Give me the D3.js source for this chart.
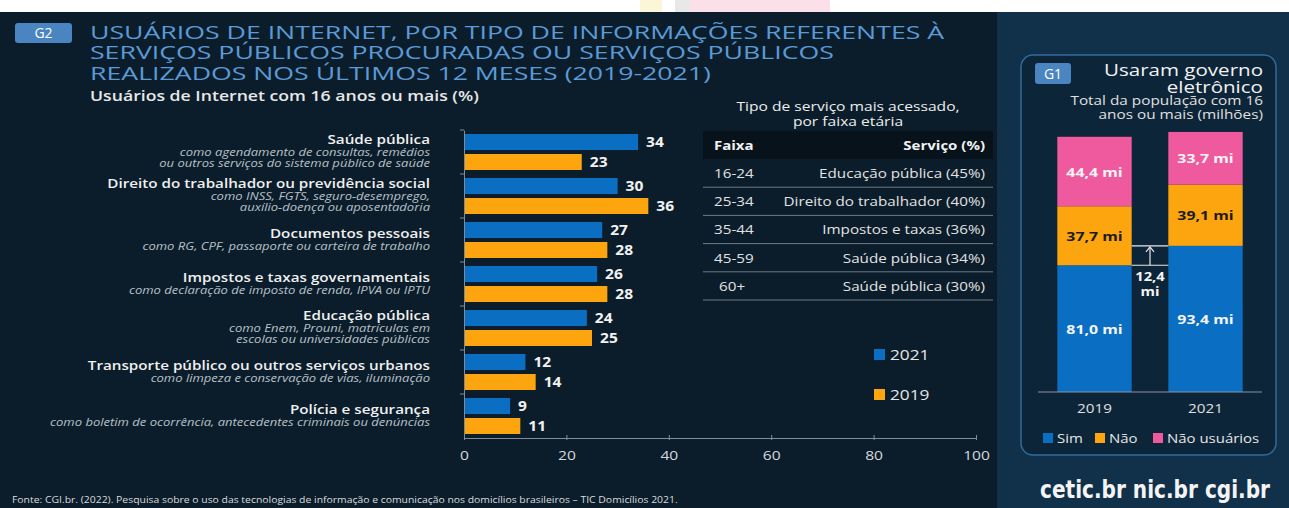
<!DOCTYPE html>
<html><head><meta charset="utf-8">
<script src="https://cdn.jsdelivr.net/npm/d3@7"></script>
<style>
body{margin:0;background:#fff;}
svg{display:block;font-family:"Open Sans","Noto Sans",sans-serif;}
</style>
</head><body>
<svg id="c" width="1289" height="508"></svg>
<script>
// ---------- DATA ----------
const categories = [
  "Saúde pública",
  "Direito do trabalhador ou previdência social",
  "Documentos pessoais",
  "Impostos e taxas governamentais",
  "Educação pública",
  "Transporte público ou outros serviços urbanos",
  "Polícia e segurança"
];
const categoryNotes = [
  ["como agendamento de consultas, remédios", "ou outros serviços do sistema público de saúde"],
  ["como INSS, FGTS, seguro-desemprego,", "auxílio-doença ou aposentadoria"],
  ["como RG, CPF, passaporte ou carteira de trabalho"],
  ["como declaração de imposto de renda, IPVA ou IPTU"],
  ["como Enem, Prouni, matrículas em", "escolas ou universidades públicas"],
  ["como limpeza e conservação de vias, iluminação"],
  ["como boletim de ocorrência, antecedentes criminais ou denúncias"]
];
const seriesNames = ["2021", "2019"];
const values2021 = [34, 30, 27, 26, 24, 12, 9];
const values2019 = [23, 36, 28, 28, 25, 14, 11];
const xTicks = [0, 20, 40, 60, 80, 100];

const tableTitle = ["Tipo de serviço mais acessado,", "por faixa etária"];
const tableHeader = ["Faixa", "Serviço (%)"];
const ageGroups = ["16-24", "25-34", "35-44", "45-59", "60+"];
const topServices = ["Educação pública (45%)", "Direito do trabalhador (40%)", "Impostos e taxas (36%)", "Saúde pública (34%)", "Saúde pública (30%)"];

const g1Years = ["2019", "2021"];
const g1Sim = [81.0, 93.4];
const g1Nao = [37.7, 39.1];
const g1NaoUsuarios = [44.4, 33.7];
const g1Series = ["Sim", "Não", "Não usuários"];

// ---------- STYLE ----------
const BLUE = "#0a6fc2", ORANGE = "#fca50f", PINK = "#ef5a9e";
const svg = d3.select("#c");
const ptBR = d3.formatLocale({decimal: ",", thousands: ".", grouping: [3], currency: ["R$", ""]});
const f1 = ptBR.format(".1f");

// horizontal widening of text (reference glyphs are wider than the available fonts)
function stretch(sel, k) {
  sel.each(function () {
    const L = this.getComputedTextLength();
    d3.select(this).attr("textLength", L * k).attr("lengthAdjust", "spacingAndGlyphs");
  });
}

// backgrounds
svg.append("rect").attr("x", 0).attr("y", 0).attr("width", 1289).attr("height", 508).attr("fill", "#ffffff");
svg.append("rect").attr("x", 640).attr("y", 0).attr("width", 22).attr("height", 12).attr("fill", "#fbf6d8");
svg.append("rect").attr("x", 675).attr("y", 0).attr("width", 40).attr("height", 12).attr("fill", "#e8e8e8");
svg.append("rect").attr("x", 690).attr("y", 0).attr("width", 140).attr("height", 12).attr("fill", "#fbe0ea");
svg.append("rect").attr("x", 0).attr("y", 12).attr("width", 1289).attr("height", 496).attr("fill", "#0b1d2b");
svg.append("rect").attr("x", 997).attr("y", 12).attr("width", 292).attr("height", 496).attr("fill", "#11304a");

// ---------- TITLE ----------
const badge = svg.append("g");
badge.append("rect").attr("x", 15).attr("y", 23).attr("width", 57).attr("height", 20).attr("rx", 3).attr("fill", "#4a85c2");
badge.append("text").attr("x", 43.5).attr("y", 38).attr("text-anchor", "middle").attr("fill", "#fff").attr("font-size", 14).text("G2");

const titleLines = [
  "USUÁRIOS DE INTERNET, POR TIPO DE INFORMAÇÕES REFERENTES À",
  "SERVIÇOS PÚBLICOS PROCURADAS OU SERVIÇOS PÚBLICOS",
  "REALIZADOS NOS ÚLTIMOS 12 MESES (2019-2021)"
];
const titleSel = svg.append("g").selectAll("text").data(titleLines).join("text")
  .attr("x", 90).attr("y", (d, i) => 38.5 + i * 20.5)
  .attr("fill", "#5b9ad6").attr("font-size", 18.8).attr("font-weight", 500)
  .text(d => d);
stretch(titleSel, 1.42);

const subSel = svg.append("text").attr("x", 90).attr("y", 101).attr("fill", "#e8e8e8")
  .attr("font-size", 14).attr("font-weight", 600).text("Usuários de Internet com 16 anos ou mais (%)");
stretch(subSel, 1.26);

// ---------- BAR CHART ----------
const x = d3.scaleLinear().domain([0, 100]).range([464, 976]);
const y = d3.scaleBand().domain(categories).range([130, 438]);
const ySub = d3.scaleBand().domain(seriesNames).range([4, 40]).paddingInner(0.2);

const rows = categories.map((c, i) => ({cat: c, notes: categoryNotes[i], v: {"2021": values2021[i], "2019": values2019[i]}}));
const colorOf = {"2021": BLUE, "2019": ORANGE};

const chart = svg.append("g");
const rowG = chart.selectAll("g.row").data(rows).join("g").attr("class", "row")
  .attr("transform", d => `translate(0,${y(d.cat)})`);

rowG.selectAll("rect").data(d => seriesNames.map(s => ({s, v: d.v[s]}))).join("rect")
  .attr("x", x(0)).attr("y", d => ySub(d.s))
  .attr("width", d => x(d.v) - x(0)).attr("height", ySub.bandwidth())
  .attr("fill", d => colorOf[d.s]);

const valSel = rowG.selectAll("text.val").data(d => seriesNames.map(s => ({s, v: d.v[s]}))).join("text")
  .attr("class", "val")
  .attr("x", d => x(d.v) + 8).attr("y", d => ySub(d.s) + ySub.bandwidth() / 2 + 5)
  .attr("fill", "#f2f2f2").attr("font-size", 13.5).attr("font-weight", 700)
  .text(d => d.v);
stretch(valSel, 1.15);

// category labels
rowG.each(function (d) {
  const g = d3.select(this);
  const n = d.notes.length;
  const lineH = 11;
  const blockH = 14 + n * lineH;
  const top = y.bandwidth() / 2 - 2 - blockH / 2;
  g.append("text").attr("class", "catLabel").attr("x", 430).attr("y", top + 12).attr("text-anchor", "end")
    .attr("fill", "#f0f0f0").attr("font-size", 13).attr("font-weight", 600).text(d.cat);
  d.notes.forEach((t, j) => {
    g.append("text").attr("class", "catNote").attr("x", 430).attr("y", top + 14 + lineH * (j + 1) - 1).attr("text-anchor", "end")
      .attr("fill", "#b8c0c8").attr("font-size", 10.5).attr("font-style", "italic").text(t);
  });
});
stretch(chart.selectAll("text.catLabel"), 1.17);
stretch(chart.selectAll("text.catNote"), 1.24);

// left axis
const axisColor = "#7f8c99";
const yAxis = chart.append("g").attr("transform", `translate(${x(0)},0)`)
  .call(d3.axisLeft(y).tickValues([]).tickSizeOuter(0));
yAxis.select(".domain").attr("stroke", axisColor);
chart.append("g").selectAll("line").data(categories).join("line")
  .attr("x1", x(0) - 4).attr("x2", x(0)).attr("y1", d => y(d)).attr("y2", d => y(d))
  .attr("stroke", axisColor);

// bottom axis
const xAxis = chart.append("g").attr("transform", "translate(0,438)")
  .call(d3.axisBottom(x).tickValues(xTicks).tickSize(3).tickSizeOuter(0).tickPadding(10));
xAxis.select(".domain").attr("stroke", axisColor);
xAxis.selectAll(".tick line").attr("stroke", axisColor).attr("y1", -3).attr("y2", 2);
xAxis.selectAll(".tick text").attr("fill", "#d5d9de").attr("font-size", 13).attr("font-family", "Open Sans");
stretch(xAxis.selectAll(".tick text"), 1.2);

// legend
const legend = svg.append("g");
legend.selectAll("g").data(seriesNames).join("g")
  .attr("transform", (d, i) => `translate(874,${349 + i * 40})`)
  .each(function (d) {
    const g = d3.select(this);
    g.append("rect").attr("width", 11).attr("height", 11).attr("fill", colorOf[d]);
    g.append("text").attr("x", 16).attr("y", 11).attr("fill", "#e6e6e6").attr("font-size", 15).text(d);
  });
stretch(legend.selectAll("text"), 1.15);

// ---------- TABLE ----------
const tbl = svg.append("g");
const ttSel = tbl.selectAll("text.tt").data(tableTitle).join("text").attr("class", "tt")
  .attr("x", 848).attr("y", (d, i) => 111 + i * 14.5).attr("text-anchor", "middle")
  .attr("fill", "#eeeeee").attr("font-size", 12.8).attr("font-weight", 500).text(d => d);
stretch(ttSel, 1.22);
tbl.append("rect").attr("x", 703).attr("y", 131).attr("width", 290).attr("height", 28).attr("fill", "#07121b");
const th1 = tbl.append("text").attr("x", 714).attr("y", 150).attr("fill", "#f2f2f2").attr("font-size", 12.5).attr("font-weight", 700).text(tableHeader[0]);
const th2 = tbl.append("text").attr("x", 985).attr("y", 150).attr("text-anchor", "end").attr("fill", "#f2f2f2").attr("font-size", 12.5).attr("font-weight", 700).text(tableHeader[1]);
stretch(th1, 1.2); stretch(th2, 1.2);
const rowY = d3.scaleBand().domain(ageGroups).range([159, 300]);
const trs = tbl.selectAll("g.tr").data(ageGroups).join("g").attr("class", "tr")
  .attr("transform", d => `translate(0,${rowY(d)})`);
trs.append("text").attr("class", "td").attr("x", (d, i) => i === 4 ? 719 : 714).attr("y", rowY.bandwidth() / 2 + 5)
  .attr("fill", "#e2e2e2").attr("font-size", 13).text(d => d);
trs.append("text").attr("class", "td").attr("x", 985).attr("y", rowY.bandwidth() / 2 + 5).attr("text-anchor", "end")
  .attr("fill", "#e2e2e2").attr("font-size", 13).text((d, i) => topServices[i]);
trs.append("line").attr("x1", 703).attr("x2", 993).attr("y1", rowY.bandwidth()).attr("y2", rowY.bandwidth())
  .attr("stroke", "#6f7b86").attr("stroke-width", 1);
stretch(tbl.selectAll("text.td"), 1.17);

// ---------- G1 PANEL ----------
const g1 = svg.append("g");
g1.append("rect").attr("x", 1021).attr("y", 55).attr("width", 255).attr("height", 400).attr("rx", 12)
  .attr("fill", "#0d2538").attr("stroke", "#2f6c9c").attr("stroke-width", 1.5);
g1.append("rect").attr("x", 1035).attr("y", 63).attr("width", 36).attr("height", 21).attr("rx", 3).attr("fill", "#4a85c2");
g1.append("text").attr("x", 1053).attr("y", 79).attr("text-anchor", "middle").attr("fill", "#fff").attr("font-size", 14).text("G1");
const t1 = g1.selectAll("text.t1").data(["Usaram governo", "eletrônico"]).join("text").attr("class", "t1")
  .attr("x", 1263).attr("y", (d, i) => 76 + i * 16.5).attr("text-anchor", "end")
  .attr("fill", "#f2f2f2").attr("font-size", 15.8).attr("font-weight", 500).text(d => d);
stretch(t1, 1.3);
const t2 = g1.selectAll("text.t2").data(["Total da população com 16", "anos ou mais (milhões)"]).join("text").attr("class", "t2")
  .attr("x", 1263).attr("y", (d, i) => 105 + i * 13.5).attr("text-anchor", "end")
  .attr("fill", "#e0e0e0").attr("font-size", 11.8).text(d => d);
stretch(t2, 1.3);

const gx = d3.scaleBand().domain(g1Years).range([1038, 1262]).paddingInner(0.33).paddingOuter(0.174);
const gy = d3.scaleLinear().domain([0, 170]).range([392, 126]);
const stackData = g1Years.map((yr, i) => ({year: yr, "Sim": g1Sim[i], "Não": g1Nao[i], "Não usuários": g1NaoUsuarios[i]}));
const stack = d3.stack().keys(g1Series)(stackData);
const g1Color = {"Sim": BLUE, "Não": ORANGE, "Não usuários": PINK};
const g1Text = {"Sim": "#f4f4f4", "Não": "#1b1b1b", "Não usuários": "#f4f4f4"};

const layers = g1.selectAll("g.layer").data(stack).join("g").attr("class", "layer");
layers.selectAll("rect").data(d => d.map(p => ({key: d.key, p}))).join("rect")
  .attr("x", d => gx(d.p.data.year)).attr("width", gx.bandwidth())
  .attr("y", d => gy(d.p[1])).attr("height", d => gy(d.p[0]) - gy(d.p[1]))
  .attr("fill", d => g1Color[d.key]);
const segLab = layers.selectAll("text").data(d => d.map(p => ({key: d.key, p}))).join("text")
  .attr("x", d => gx(d.p.data.year) + gx.bandwidth() / 2)
  .attr("y", d => (gy(d.p[0]) + gy(d.p[1])) / 2 + 5)
  .attr("text-anchor", "middle").attr("fill", d => g1Text[d.key])
  .attr("font-size", 13).attr("font-weight", 700)
  .text(d => f1(d.p.data[d.key]) + " mi");
stretch(segLab, 1.22);

// baseline
g1.append("line").attr("x1", 1038).attr("x2", 1262).attr("y1", gy(0)).attr("y2", gy(0)).attr("stroke", "#8a96a2");

// difference annotation
const xL = gx(g1Years[0]) + gx.bandwidth(), xR = gx(g1Years[1]);
const xm = (xL + xR) / 2;
const yLow = gy(g1Sim[0]), yHigh = gy(g1Sim[1]);
const ann = g1.append("g").attr("stroke", "#e8e8e8").attr("stroke-width", 1.2).attr("fill", "none");
ann.append("line").attr("x1", xL).attr("x2", xR).attr("y1", yLow).attr("y2", yLow);
ann.append("line").attr("x1", xL).attr("x2", xR).attr("y1", yHigh).attr("y2", yHigh);
ann.append("line").attr("x1", xm).attr("x2", xm).attr("y1", yLow).attr("y2", yHigh + 2);
ann.append("path").attr("d", `M${xm - 4},${yHigh + 6}L${xm},${yHigh + 1}L${xm + 4},${yHigh + 6}`);
const diffSel = g1.selectAll("text.diff").data([f1(g1Sim[1] - g1Sim[0]), "mi"]).join("text").attr("class", "diff")
  .attr("x", xm).attr("y", (d, i) => yLow + 16 + i * 14.5).attr("text-anchor", "middle")
  .attr("fill", "#f4f4f4").attr("font-size", 12.8).attr("font-weight", 700).text(d => d);
stretch(diffSel, 1.15);

// year labels
const yrSel = g1.selectAll("text.yr").data(g1Years).join("text").attr("class", "yr")
  .attr("x", d => gx(d) + gx.bandwidth() / 2).attr("y", 413).attr("text-anchor", "middle")
  .attr("fill", "#e0e0e0").attr("font-size", 13).text(d => d);
stretch(yrSel, 1.17);

// G1 legend
const lgX = [1043, 1095, 1153];
const lg = g1.selectAll("g.lg").data(g1Series).join("g").attr("class", "lg")
  .attr("transform", (d, i) => `translate(${lgX[i]},433)`);
lg.append("rect").attr("width", 10).attr("height", 10).attr("fill", d => g1Color[d]);
lg.append("text").attr("x", 14).attr("y", 10).attr("fill", "#e6e6e6").attr("font-size", 13).text(d => d);
stretch(lg.selectAll("text"), 1.15);

// ---------- FOOTER ----------
const foot = svg.append("text").attr("x", 12).attr("y", 503).attr("fill", "#dcdcdc").attr("font-size", 8.6)
  .text("Fonte: CGI.br. (2022). Pesquisa sobre o uso das tecnologias de informação e comunicação nos domicílios brasileiros – TIC Domicílios 2021.");
stretch(foot, 1.21);
svg.append("text").attr("x", 1040).attr("y", 498).attr("fill", "#f4f4f4")
  .attr("font-family", "'DejaVu Sans Condensed','Liberation Sans Narrow',sans-serif")
  .attr("font-size", 24).attr("font-weight", 600)
  .attr("textLength", 230).attr("lengthAdjust", "spacingAndGlyphs")
  .text("cetic.br  nic.br  cgi.br");
</script>
</body></html>
